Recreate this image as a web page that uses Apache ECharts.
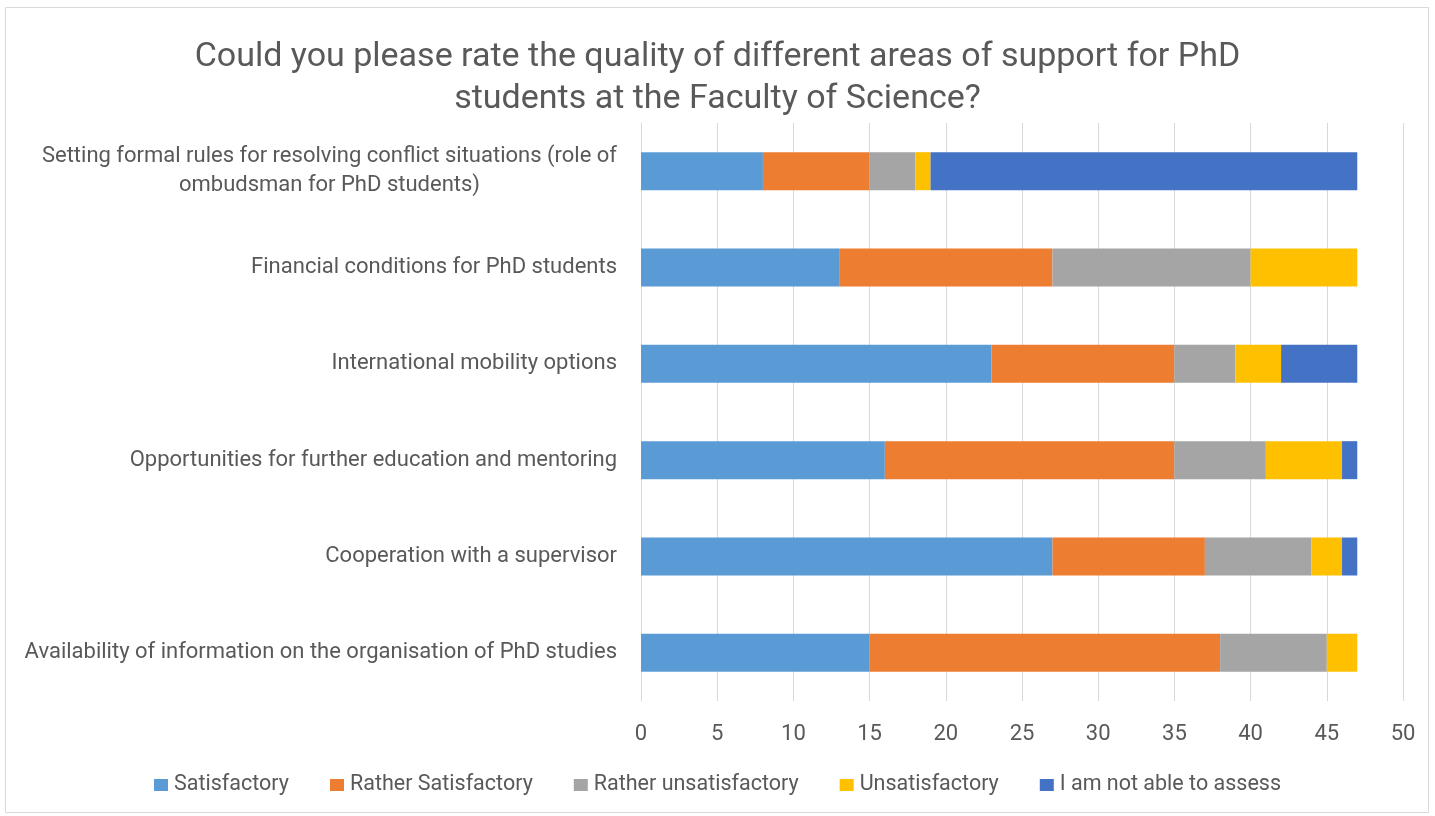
<!DOCTYPE html>
<html>
<head>
<meta charset="utf-8">
<script src="https://cdn.jsdelivr.net/npm/echarts@6/dist/echarts.min.js"></script>
<style>
html,body{margin:0;padding:0;background:#fff;}
#chart{width:1435px;height:816px;}
</style>
</head>
<body>
<div id="chart"></div>
<script>
const titleText = "Could you please rate the quality of different areas of support for PhD\nstudents at the Faculty of Science?";
const categories = [
  "Setting formal rules for resolving conflict situations (role of\nombudsman for PhD students)",
  "Financial conditions for PhD students",
  "International mobility options",
  "Opportunities for further education and mentoring",
  "Cooperation with a supervisor",
  "Availability of information on the organisation of PhD studies"
];
const seriesNames = ["Satisfactory", "Rather Satisfactory", "Rather unsatisfactory", "Unsatisfactory", "I am not able to assess"];
const satisfactory = [8, 13, 23, 16, 27, 15];
const ratherSatisfactory = [7, 14, 12, 19, 10, 23];
const ratherUnsatisfactory = [3, 13, 4, 6, 7, 7];
const unsatisfactory = [1, 7, 3, 5, 2, 2];
const notAble = [28, 0, 5, 1, 1, 0];
const xTicks = {min: 0, max: 50, interval: 5};

const colors = ["#5B9BD5", "#ED7D31", "#A5A5A5", "#FFC000", "#4472C4"];
const values = [satisfactory, ratherSatisfactory, ratherUnsatisfactory, unsatisfactory, notAble];
const FONT = "Roboto";
const TXT = "#595959";

const chart = echarts.init(document.getElementById('chart'), null, {renderer: 'canvas'});
chart.setOption({
  backgroundColor: '#ffffff',
  animation: false,
  textStyle: {fontFamily: FONT},
  title: {
    text: titleText,
    left: 'center',
    top: 31,
    textStyle: {fontFamily: FONT, fontSize: 34, fontWeight: 'normal', color: TXT, lineHeight: 42}
  },
  graphic: [{
    type: 'rect',
    shape: {x: 5.5, y: 7.5, width: 1423, height: 805},
    style: {fill: 'none', stroke: '#d9d9d9', lineWidth: 1},
    silent: true
  }],
  legend: {
    bottom: 15,
    left: 'center',
    itemWidth: 14,
    itemHeight: 12,
    itemGap: 41,
    icon: 'rect',
    textStyle: {fontFamily: FONT, fontSize: 21.5, color: TXT, padding: [0, 0, 0, 1]},
    data: seriesNames
  },
  grid: {left: 641, right: 32, top: 123, bottom: 115, containLabel: false},
  xAxis: {
    type: 'value',
    min: xTicks.min, max: xTicks.max, interval: xTicks.interval,
    axisLine: {show: false},
    axisTick: {show: false},
    splitLine: {show: true, lineStyle: {color: '#d9d9d9', width: 1}},
    axisLabel: {fontFamily: FONT, fontSize: 22, color: TXT, margin: 22}
  },
  yAxis: {
    type: 'category',
    inverse: true,
    data: categories,
    axisLine: {show: true, lineStyle: {color: '#d9d9d9'}},
    axisTick: {show: false},
    axisLabel: {
      margin: 24,
      formatter: function (v) { return '{c|' + v.split('\n').join('}\n{c|') + '}'; },
      rich: {c: {fontFamily: FONT, fontSize: 22, color: TXT, align: 'center', lineHeight: 29}}
    }
  },
  series: seriesNames.map((name, i) => ({
    name: name,
    type: 'bar',
    stack: 'total',
    barWidth: 38,
    itemStyle: {color: colors[i]},
    data: values[i]
  }))
});
</script>
</body>
</html>
